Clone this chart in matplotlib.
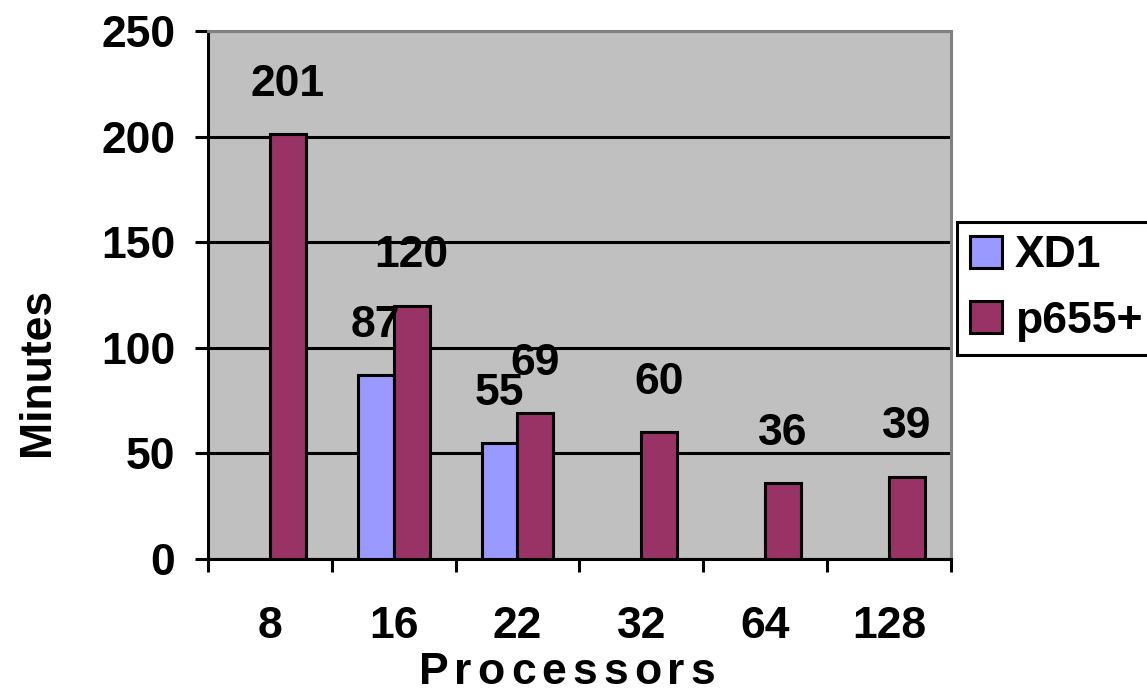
import numpy as np
import matplotlib
matplotlib.use("Agg")
import matplotlib.pyplot as plt
from matplotlib.patches import Patch

plt.rcParams['font.family'] = ['Liberation Sans', 'DejaVu Sans']
plt.rcParams['font.weight'] = 'bold'

processors = ["8", "16", "22", "32", "64", "128"]
xd1 = [np.nan, 87, 55, np.nan, np.nan, np.nan]
p655 = [201, 120, 69, 60, 36, 39]

fs = 32
w = 0.29
xd1_col = "#9999FF"
p655_col = "#993366"

fig = plt.figure(figsize=(11.47, 6.98), dpi=100)
ax = fig.add_axes([0.1813, 0.1991, 0.8290 - 0.1813, 0.9556 - 0.1991])
ax.set_facecolor("#C0C0C0")

x = np.arange(len(processors))
ax.bar(x - w / 2, xd1, w, color=xd1_col, edgecolor="black", linewidth=2.2, zorder=3)
ax.bar(x + w / 2, p655, w, color=p655_col, edgecolor="black", linewidth=2.2, zorder=3)

# value labels sit well above each bar
for xs, vals in ((x - w / 2, xd1), (x + w / 2, p655)):
    for xi, v in zip(xs, vals):
        if np.isnan(v):
            continue
        ax.annotate(f"{int(v)}", xy=(xi, v), xytext=(0, 27.5), textcoords="offset points",
                    ha="center", va="baseline", fontsize=fs, fontweight="bold", zorder=4)

ax.set_xlim(-0.5, len(processors) - 0.5)
ax.set_ylim(0, 250)
ax.set_yticks(np.arange(0, 251, 50))
ax.yaxis.grid(True, color="black", linewidth=2.2)
ax.set_axisbelow(True)

# category boundaries get tick marks, names go in between
ax.set_xticks(np.arange(-0.5, len(processors), 1.0))
ax.set_xticklabels([])
ax.set_xticks(x, minor=True)
ax.set_xticklabels(processors, minor=True)
ax.tick_params(axis="x", which="major", direction="out", length=9.5, width=2.2)
ax.tick_params(axis="x", which="minor", length=0, pad=34, labelsize=fs)
ax.tick_params(axis="y", direction="out", length=9.5, width=2.2, pad=14, labelsize=fs)
for lab in ax.get_xticklabels(minor=True) + ax.get_yticklabels():
    lab.set_fontweight("bold")

for s in ("left", "bottom"):
    ax.spines[s].set_color("black")
    ax.spines[s].set_linewidth(2.2)
for s in ("top", "right"):
    ax.spines[s].set_color("#808080")
    ax.spines[s].set_linewidth(2.2)

fig.text(38 / 1147, 1 - 372 / 698, "Minutes", rotation=90, ha="center", va="center",
         fontsize=fs, fontweight="bold")

# spaced-out axis title, one letter at a time
title = "Processors"
gap = 6.0
renderer = fig.canvas.get_renderer()
pieces = [fig.text(0, 0, ch, fontsize=fs, fontweight="bold") for ch in title]
widths = [p.get_window_extent(renderer).width for p in pieces]
total = sum(widths) + gap * (len(title) - 1)
xpos = 567 - total / 2
for p, wd in zip(pieces, widths):
    p.set_position((xpos / 1147, 1 - 672 / 698))
    p.set_va("center")
    xpos += wd + gap

handles = [Patch(facecolor=xd1_col, edgecolor="black", linewidth=2.2, label="XD1"),
           Patch(facecolor=p655_col, edgecolor="black", linewidth=2.2, label="p655+")]
leg = fig.legend(handles=handles, loc="upper left",
                 bbox_to_anchor=(957 / 1147, 1 - 222 / 698), bbox_transform=fig.transFigure,
                 prop={"weight": "bold", "size": fs}, frameon=True, fancybox=False,
                 framealpha=1, edgecolor="black", borderpad=0.3, handlelength=0.72,
                 handleheight=0.72, handletextpad=0.28, labelspacing=0.55, borderaxespad=0)
leg.get_frame().set_linewidth(2.2)

fig.savefig("out.png", dpi=100)
